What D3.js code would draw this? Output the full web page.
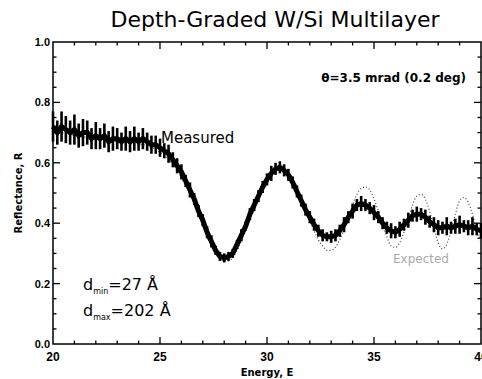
<!DOCTYPE html>
<html>
<head>
<meta charset="utf-8">
<script src="https://cdn.jsdelivr.net/npm/d3@7"></script>
<style>
  body { margin: 0; background: #fff; }
  svg { display: block; }
</style>
</head>
<body>
<div id="chart"></div>
<script>
const FRAME_WIDTH = 482;
const FRAME_HEIGHT = 379;
const MARGINS = {left: 53, right: 1, top: 42, bottom: 35};

// energy grid of the scan (step 0.2)
const energy = d3.range(0, 101).map(i => +(20 + i * 0.2).toFixed(1));

// measured reflectance
const measured = [
  0.72, 0.70, 0.72, 0.71, 0.70, 0.71, 0.69, 0.70, 0.70, 0.68,
  0.69, 0.68, 0.69, 0.67, 0.68, 0.68, 0.67, 0.68, 0.67, 0.68,
  0.67, 0.68, 0.67, 0.66, 0.66, 0.65, 0.64, 0.63, 0.61, 0.59,
  0.57, 0.54, 0.51, 0.48, 0.44, 0.41, 0.37, 0.34, 0.31, 0.29,
  0.285, 0.29, 0.30, 0.33, 0.36, 0.39, 0.43, 0.46, 0.49, 0.52,
  0.545, 0.565, 0.58, 0.585, 0.575, 0.56, 0.535, 0.505, 0.475, 0.445,
  0.42, 0.395, 0.375, 0.36, 0.355, 0.355, 0.36, 0.375, 0.395, 0.42,
  0.44, 0.46, 0.465, 0.46, 0.45, 0.435, 0.42, 0.40, 0.385, 0.375,
  0.37, 0.38, 0.395, 0.41, 0.425, 0.43, 0.43, 0.42, 0.405, 0.395,
  0.385, 0.385, 0.39, 0.385, 0.39, 0.395, 0.39, 0.385, 0.39, 0.38,
  0.375
];

// error bar half widths
const measuredErr = [
  0.05, 0.04, 0.05, 0.045, 0.04, 0.05, 0.04, 0.045, 0.04, 0.035,
  0.045, 0.035, 0.04, 0.035, 0.04, 0.035, 0.03, 0.04, 0.035, 0.04,
  0.03, 0.035, 0.03, 0.03, 0.03, 0.03, 0.025, 0.03, 0.025, 0.025,
  0.025, 0.02, 0.025, 0.02, 0.02, 0.02, 0.02, 0.02, 0.015, 0.015,
  0.015, 0.015, 0.015, 0.015, 0.02, 0.015, 0.02, 0.02, 0.02, 0.02,
  0.02, 0.025, 0.02, 0.02, 0.02, 0.02, 0.02, 0.02, 0.02, 0.02,
  0.02, 0.02, 0.02, 0.02, 0.015, 0.02, 0.02, 0.02, 0.025, 0.02,
  0.025, 0.02, 0.025, 0.02, 0.02, 0.025, 0.02, 0.02, 0.02, 0.025,
  0.02, 0.025, 0.02, 0.025, 0.02, 0.025, 0.02, 0.025, 0.02, 0.025,
  0.025, 0.02, 0.03, 0.02, 0.025, 0.03, 0.02, 0.025, 0.03, 0.02,
  0.025
];

// expected (model) reflectance
const expected = [
  0.70, 0.70, 0.70, 0.695, 0.695, 0.69, 0.69, 0.685, 0.685, 0.68,
  0.68, 0.675, 0.675, 0.67, 0.67, 0.67, 0.665, 0.665, 0.665, 0.66,
  0.66, 0.66, 0.655, 0.65, 0.645, 0.635, 0.625, 0.61, 0.595, 0.575,
  0.55, 0.525, 0.495, 0.46, 0.425, 0.39, 0.355, 0.325, 0.30, 0.285,
  0.275, 0.275, 0.285, 0.31, 0.34, 0.375, 0.41, 0.445, 0.48, 0.51,
  0.535, 0.555, 0.57, 0.58, 0.58, 0.57, 0.55, 0.52, 0.485, 0.45,
  0.41, 0.375, 0.345, 0.325, 0.31, 0.31, 0.32, 0.345, 0.38, 0.42,
  0.46, 0.495, 0.515, 0.52, 0.51, 0.48, 0.44, 0.395, 0.355, 0.325,
  0.32, 0.335, 0.37, 0.415, 0.46, 0.49, 0.495, 0.48, 0.44, 0.385,
  0.335, 0.315, 0.33, 0.375, 0.43, 0.475, 0.485, 0.47, 0.43, 0.375,
  0.335
];

const xTicks = [20, 25, 30, 35, 40];
const yTicks = [0.0, 0.2, 0.4, 0.6, 0.8, 1.0];

const VIS_WIDTH = FRAME_WIDTH - MARGINS.left - MARGINS.right;
const VIS_HEIGHT = FRAME_HEIGHT - MARGINS.top - MARGINS.bottom;

const svg = d3.select("#chart")
  .append("svg")
    .attr("width", FRAME_WIDTH)
    .attr("height", FRAME_HEIGHT);

const x = d3.scaleLinear().domain([20, 40]).range([MARGINS.left, MARGINS.left + VIS_WIDTH]);
const y = d3.scaleLinear().domain([0, 1]).range([MARGINS.top + VIS_HEIGHT, MARGINS.top]);

const x0 = x(20), x1 = x(40), y0 = y(0), y1 = y(1);

// frame
svg.append("rect")
  .attr("x", x0).attr("y", y1)
  .attr("width", x1 - x0).attr("height", y0 - y1)
  .attr("fill", "none").attr("stroke", "#000").attr("stroke-width", 1.5);

// ticks, pointing inward on all four sides
const xMinor = d3.range(21, 40, 1).filter(v => v % 5 !== 0);
const yMinor = d3.range(1, 20).map(v => v * 0.05).filter((v, i) => (i + 1) % 4 !== 0);
const tickG = svg.append("g").attr("stroke", "#000").attr("stroke-width", 1.3);

xTicks.slice(1, -1).forEach(v => {
  tickG.append("line").attr("x1", x(v)).attr("x2", x(v)).attr("y1", y0).attr("y2", y0 - 7);
  tickG.append("line").attr("x1", x(v)).attr("x2", x(v)).attr("y1", y1).attr("y2", y1 + 7);
});
xMinor.forEach(v => {
  tickG.append("line").attr("x1", x(v)).attr("x2", x(v)).attr("y1", y0).attr("y2", y0 - 3.5);
  tickG.append("line").attr("x1", x(v)).attr("x2", x(v)).attr("y1", y1).attr("y2", y1 + 3.5);
});
yTicks.slice(1, -1).forEach(v => {
  tickG.append("line").attr("x1", x0).attr("x2", x0 + 7).attr("y1", y(v)).attr("y2", y(v));
  tickG.append("line").attr("x1", x1).attr("x2", x1 - 7).attr("y1", y(v)).attr("y2", y(v));
});
yMinor.forEach(v => {
  tickG.append("line").attr("x1", x0).attr("x2", x0 + 3.5).attr("y1", y(v)).attr("y2", y(v));
  tickG.append("line").attr("x1", x1).attr("x2", x1 - 3.5).attr("y1", y(v)).attr("y2", y(v));
});

// tick labels
svg.append("g").selectAll("text")
  .data(xTicks).enter().append("text")
    .attr("x", d => x(d)).attr("y", y0 + 17)
    .attr("text-anchor", "middle")
    .style("font", "bold 12px 'Liberation Sans', Arial, sans-serif")
    .text(d => d);

svg.append("g").selectAll("text")
  .data(yTicks).enter().append("text")
    .attr("x", x0 - 3).attr("y", d => y(d) + 4)
    .attr("text-anchor", "end")
    .style("font", "bold 11px 'Liberation Sans', Arial, sans-serif")
    .text(d => d.toFixed(1));

// axis titles
svg.append("text")
  .attr("x", x(30)).attr("y", 376)
  .attr("text-anchor", "middle")
  .style("font", "bold 10px 'DejaVu Sans', sans-serif")
  .text("Energy, E");

svg.append("text")
  .attr("transform", "translate(22," + y(0.5) + ") rotate(-90)")
  .attr("text-anchor", "middle")
  .style("font", "bold 10px 'DejaVu Sans', sans-serif")
  .text("Reflectance, R");

// title
svg.append("text")
  .attr("x", 275).attr("y", 27)
  .attr("text-anchor", "middle")
  .style("font", "22px 'DejaVu Sans', sans-serif")
  .text("Depth-Graded W/Si Multilayer");

// expected curve, dotted
svg.append("path")
  .datum(energy.map((e, i) => [e, expected[i]]))
  .attr("fill", "none")
  .attr("stroke", "#444")
  .attr("stroke-width", 1.2)
  .attr("stroke-dasharray", "1,2.2")
  .attr("d", d3.line().x(d => x(d[0])).y(d => y(d[1])).curve(d3.curveMonotoneX));

// measured: thick line + error bars
svg.append("path")
  .datum(energy.map((e, i) => [e, measured[i]]))
  .attr("fill", "none")
  .attr("stroke", "#000")
  .attr("stroke-width", 5)
  .attr("d", d3.line().x(d => x(d[0])).y(d => y(d[1])));

svg.append("g").selectAll("line")
  .data(energy.map((e, i) => ({e: e, v: measured[i], err: measuredErr[i]})))
  .enter().append("line")
    .attr("x1", d => x(d.e)).attr("x2", d => x(d.e))
    .attr("y1", d => y(d.v - d.err)).attr("y2", d => y(d.v + d.err))
    .attr("stroke", "#000").attr("stroke-width", 2.6);

// annotations
svg.append("text")
  .attr("x", 466).attr("y", 82)
  .attr("text-anchor", "end")
  .style("font", "bold 12px 'DejaVu Sans', sans-serif")
  .text("\u03b8=3.5 mrad (0.2 deg)");

svg.append("text")
  .attr("x", 161).attr("y", 143)
  .style("font", "15px 'DejaVu Sans', sans-serif")
  .text("Measured");

svg.append("text")
  .attr("x", 393).attr("y", 263)
  .attr("fill", "#aaa")
  .style("font", "12px 'DejaVu Sans', sans-serif")
  .text("Expected");

const dText = svg.append("g").style("font", "16px 'DejaVu Sans', sans-serif");
const d1 = dText.append("text").attr("x", 83).attr("y", 290);
d1.append("tspan").text("d");
d1.append("tspan").attr("dy", 4).style("font-size", "8px").text("min");
d1.append("tspan").attr("dy", -4).text("=27 \u00c5");
const d2 = dText.append("text").attr("x", 83).attr("y", 316);
d2.append("tspan").text("d");
d2.append("tspan").attr("dy", 4).style("font-size", "8px").text("max");
d2.append("tspan").attr("dy", -4).text("=202 \u00c5");
</script>
</body>
</html>
